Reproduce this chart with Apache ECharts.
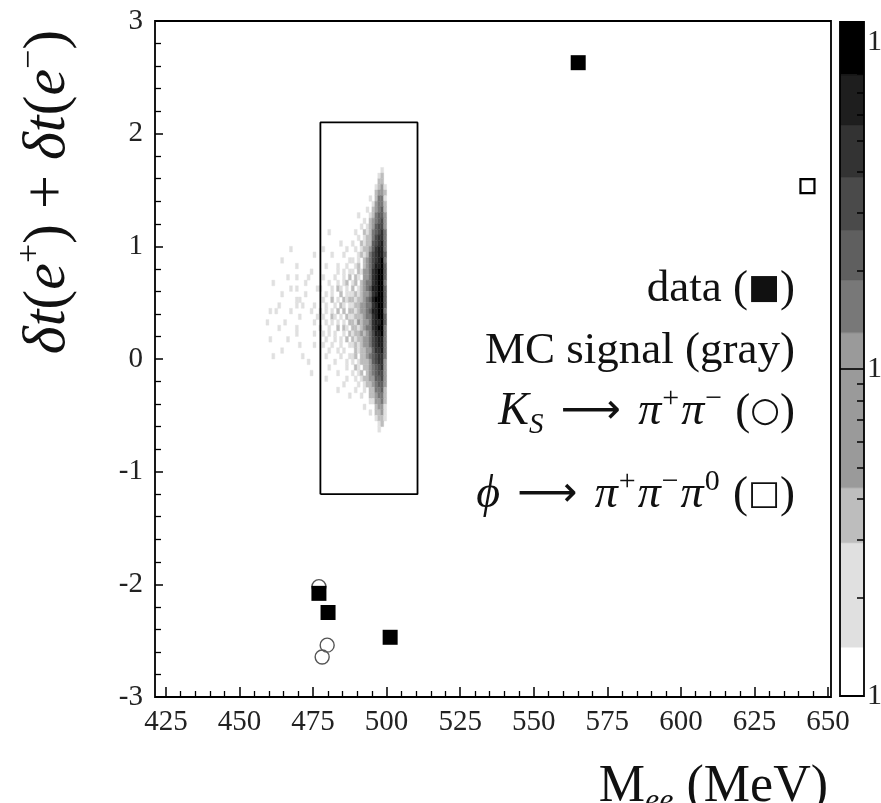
<!DOCTYPE html>
<html>
<head>
<meta charset="utf-8">
<script src="https://cdn.jsdelivr.net/npm/echarts@6/dist/echarts.min.js"></script>
<style>
  html, body { margin: 0; padding: 0; background: #fff; }
  #chart { width: 881px; height: 803px; }
</style>
</head>
<body>
<div id="chart"></div>
<script>
// ---- axis ticks (MeV) ----
const massTicks = [425, 450, 475, 500, 525, 550, 575, 600, 625, 650];
const massMinorTicks = [430, 435, 440, 445, 455, 460, 465, 470, 480, 485, 490, 495,
  505, 510, 515, 520, 530, 535, 540, 545, 555, 560, 565, 570, 580, 585, 590, 595,
  605, 610, 615, 620, 630, 635, 640, 645];
const massRange = [421.3, 651];
const dtRange = [-3, 3];

// ---- candidate events ----
const dataEvents = [[565.1, 2.63], [477.0, -2.08], [480.1, -2.25], [501.2, -2.47]];
const ksEvents = [[477.0, -2.02], [479.8, -2.54], [478.1, -2.645]];
const phiEvents = [[643.0, 1.535]];

// ---- signal region ----
const boxMass = [477.5, 510.5];
const boxDt = [-1.2, 2.1];

// ---- MC signal histogram: 1 MeV x 0.05 ns bins, rows from dt = 1.70 downward ----
const mcBinMass = 1;
const mcBinDt = 0.05;
const mcTopDt = 1.70;
// counts for each shade level written in the row strings ('.' = empty bin)
const mcLevelCounts = [0, 2, 3.5, 7, 15, 22, 30, 45, 65, 95];
// columns 459..476 MeV
const mcFar = ['', '', '', '', '', '', '', '', '', '', '', '', '', '',
  '........1.........', '................1.', '.....1............', '..........1.......',
  '...............1..', '.......1..1...1...', '..1..........1....', '........1.1......1',
  '.....1.......1....', '..........11......', '....1.....1.1...1.', '.1.1....1......1..',
  '...........1.....1', '1.....1.........1.', '....1.....1.......', '..........1.....1.',
  '.1.....1..........', '...........1....1.', '.....1............', '..1.........1.....',
  '..............1...', '', '...............1..', '', '', '', '', '', '', '', '', '', ''];
// columns 477..487 MeV
const mcMid = ['', '', '', '', '', '', '', '', '', '', '',
  '...1.......', '', '.......1...', '.1.......1.', '....1...1..', '..........1',
  '..1...1..1.', '......1.1.1', '.1...1..1.2', '...1..1.12.', '1...1.21.1.',
  '..1.1..2.11', '.1..2.1.212', '..1..1.21.1', '1.1.1.2.2.2', '.1..21.1.21',
  '..1.1.1.1.2', '1..1..2.21.', '.1.1.1..1.2', '..1..1.1.2.', '.1..1..1..1',
  '...1..1.1..', '..1....1..1', '.....1...1.', '...1.....1.', '......1....',
  '..1......1.', '........1..', '......1....', '..........1', '', '', '', '', '', ''];
// columns 488..494 MeV
const mcNear = ['', '', '', '', '', '......1', '', '.....1.', '..1...1', '....1.2',
  '...1.12', '.1..212', '..1.122', '1..2122', '.1.1223', '..12124', '1.1.234',
  '.12.234', '1.21334', '.21.334', '12.2344', '2.12345', '1212334', '2122345',
  '1223344', '2123345', '1222344', '2132334', '2212344', '1223234', '2122334',
  '1212334', '.212233', '12.2234', '1.12223', '.21.223', '1.12.23', '.1.1223',
  '..1.122', '.1..1.2', '...1..2', '......1', '....1..', '......1', '', '', ''];
// columns 495..500 MeV
const mcCore = ['...1..', '..12..', '..22..', '.1231.', '.2332.', '.2441.', '13442.',
  '23452.', '24553.', '34563.', '35663.', '45674.', '46774.', '56784.', '57884.',
  '67885.', '67894.', '68895.', '78995.', '78995.', '78994.', '88995.', '78995.',
  '89995.', '78995.', '88994.', '78995.', '78895.', '78994.', '68894.', '67884.',
  '67884.', '57784.', '56774.', '56773.', '45673.', '45663.', '35563.', '34553.',
  '24452.', '23442.', '13342.', '.2331.', '.2231.', '.1221.', '..12..', '..1...'];
const mcGroups = [[459, mcFar], [477, mcMid], [488, mcNear], [495, mcCore]];

// ---- colour scale (counts per bin, log) ----
const scaleBreaks = [1, 1.41, 2.94, 4.33, 12.9, 18.7, 26.6, 38.6, 55.7, 79.3, 115];
const scaleShades = ['#ffffff', '#e0e0e0', '#bdbdbd', '#9a9a9a', '#787878',
  '#5f5f5f', '#4a4a4a', '#333333', '#1e1e1e', '#000000'];
const scaleMinorTicks = [2, 3, 4, 5, 6, 7, 8, 9, 20, 30, 40, 50, 60, 70, 80, 90];
const scaleLabels = [1, 10, 100];

// histogram cells: [m0, dt0, m1, dt1, count]
const mcCells = [];
mcGroups.forEach(([start, rows]) => {
  rows.forEach((row, r) => {
    const top = mcTopDt - r * mcBinDt;
    for (let k = 0; k < row.length; k++) {
      const ch = row[k];
      if (ch === '.') continue;
      const m0 = start + k * mcBinMass;
      mcCells.push([m0, top - mcBinDt, m0 + mcBinMass, top, mcLevelCounts[+ch]]);
    }
  });
});

const scaleBands = scaleBreaks.slice(0, -1).map((lo, i) => [lo, scaleBreaks[i + 1], i]);
const boxPath = [[boxMass[0], boxDt[0]], [boxMass[1], boxDt[0]], [boxMass[1], boxDt[1]],
  [boxMass[0], boxDt[1]], [boxMass[0], boxDt[0]]];

const SERIF = "'Liberation Serif', 'DejaVu Serif', serif";
const INK = '#111';

const chart = echarts.init(document.getElementById('chart'), null, { renderer: 'canvas' });

const supStyle = { fontSize: 30, fontFamily: SERIF, fill: INK, verticalAlign: 'top', lineHeight: 28, padding: [0, 2, 0, 1] };
const subStyle = { fontSize: 29, fontFamily: SERIF, fontStyle: 'italic', fill: INK, verticalAlign: 'bottom', lineHeight: 28 };
const itStyle = { fontSize: 46, fontFamily: SERIF, fontStyle: 'italic', fill: INK, lineHeight: 56 };
const symStyle = { fontSize: 34, fontFamily: "'DejaVu Sans', sans-serif", fill: INK, lineHeight: 56 };
const arrowStyle = { fontSize: 42, fontFamily: "'DejaVu Sans', sans-serif", fill: INK, lineHeight: 56, padding: [0, 6] };

function legendLine(y, text) {
  return {
    type: 'text', x: 795, y: y, z: 100,
    style: {
      text: text, fill: INK, fontSize: 45, fontFamily: SERIF, lineHeight: 56,
      font: "45px 'Liberation Serif', 'DejaVu Serif', serif",
      align: 'right', verticalAlign: 'middle', textAlign: 'right', textVerticalAlign: 'middle',
      rich: { i: itStyle, sup: supStyle, sub: subStyle, s: symStyle, a: arrowStyle }
    }
  };
}

chart.setOption({
  animation: false,
  backgroundColor: '#fff',
  grid: [
    { left: 155, right: 50, top: 21, bottom: 106, show: true, borderColor: '#000', borderWidth: 1.8,
      backgroundColor: 'transparent', containLabel: false, outerBoundsMode: 'none' },
    { left: 840, width: 24, top: 22, bottom: 107, show: true, borderColor: '#000', borderWidth: 1.8,
      backgroundColor: 'transparent', z: 10, containLabel: false, outerBoundsMode: 'none' }
  ],
  xAxis: [
    {
      type: 'value', gridIndex: 0, min: massRange[0], max: massRange[1], position: 'bottom',
      axisLine: { show: false, onZero: false },
      splitLine: { show: false },
      axisTick: { show: true, inside: true, length: 10, customValues: massTicks, lineStyle: { color: '#000', width: 1.5 } },
      axisLabel: { show: true, customValues: massTicks, fontSize: 29, fontFamily: SERIF, color: '#222', margin: 11 }
    },
    {
      type: 'value', gridIndex: 0, min: massRange[0], max: massRange[1], position: 'bottom',
      axisLine: { show: false, onZero: false },
      splitLine: { show: false },
      axisTick: { show: true, inside: true, length: 6, customValues: massMinorTicks, lineStyle: { color: '#000', width: 1.3 } },
      axisLabel: { show: false }
    },
    {
      type: 'value', gridIndex: 1, min: 0, max: 1, show: false
    }
  ],
  yAxis: [
    {
      type: 'value', gridIndex: 0, min: dtRange[0], max: dtRange[1], interval: 1,
      axisLine: { show: false, onZero: false },
      splitLine: { show: false },
      axisTick: { show: true, inside: true, length: 8, lineStyle: { color: '#000', width: 1.5 } },
      minorTick: { show: true, splitNumber: 5, length: 6, lineStyle: { color: '#000', width: 1.3 } },
      axisLabel: { fontSize: 29, fontFamily: SERIF, color: '#222', margin: 12 }
    },
    {
      type: 'log', gridIndex: 1, logBase: 10, min: scaleBreaks[0], max: scaleBreaks[scaleBreaks.length - 1],
      position: 'right', z: 20,
      axisLine: { show: false, onZero: false },
      splitLine: { show: false },
      axisTick: { show: true, inside: true, length: 7, customValues: scaleMinorTicks, lineStyle: { color: '#000', width: 1.5 } },
      axisLabel: {
        show: true, customValues: scaleLabels, fontSize: 30, fontFamily: SERIF, color: '#222', margin: 3,
        formatter: v => (Math.round(v) === 100 ? '10²' : String(Math.round(v)))
      }
    }
  ],
  visualMap: {
    type: 'piecewise', show: false, seriesIndex: 0, dimension: 4,
    pieces: scaleBands.map(([lo, hi, i]) => (i === scaleBands.length - 1
      ? { gte: lo, lte: hi, color: scaleShades[i] }
      : { gte: lo, lt: hi, color: scaleShades[i] }))
  },
  series: [
    {
      name: 'MC signal', type: 'custom', coordinateSystem: 'cartesian2d', xAxisIndex: 0, yAxisIndex: 0,
      data: mcCells, encode: { x: [0, 2], y: [1, 3] }, silent: true, z: 1,
      renderItem: (params, api) => {
        const p0 = api.coord([api.value(0), api.value(3)]);
        const p1 = api.coord([api.value(2), api.value(1)]);
        const c = api.visual('color');
        return {
          type: 'rect',
          shape: { x: p0[0], y: p0[1], width: p1[0] - p0[0], height: p1[1] - p0[1] },
          style: { fill: c, stroke: c, lineWidth: 0.4 }
        };
      }
    },
    {
      name: 'signal box', type: 'line', xAxisIndex: 0, yAxisIndex: 0, data: boxPath,
      showSymbol: false, symbol: 'none', silent: true, z: 3,
      lineStyle: { color: '#000', width: 1.8 }
    },
    {
      name: 'KS', type: 'scatter', xAxisIndex: 0, yAxisIndex: 0, data: ksEvents,
      symbol: 'circle', symbolSize: 14, z: 4,
      itemStyle: { color: 'rgba(0,0,0,0)', borderColor: '#555', borderWidth: 1.4, opacity: 1 }
    },
    {
      name: 'phi', type: 'scatter', xAxisIndex: 0, yAxisIndex: 0, data: phiEvents,
      symbol: 'rect', symbolSize: 14, z: 5,
      itemStyle: { color: '#fff', borderColor: '#000', borderWidth: 2.2, opacity: 1 }
    },
    {
      name: 'data', type: 'scatter', xAxisIndex: 0, yAxisIndex: 0, data: dataEvents,
      symbol: 'rect', symbolSize: 15, z: 6,
      itemStyle: { color: '#000', opacity: 1 }
    },
    {
      name: 'scale', type: 'custom', coordinateSystem: 'cartesian2d', xAxisIndex: 2, yAxisIndex: 1,
      data: scaleBands, encode: { y: [0, 1] }, silent: true, z: 1,
      renderItem: (params, api) => {
        const p0 = api.coord([0, api.value(1)]);
        const p1 = api.coord([1, api.value(0)]);
        const c = scaleShades[api.value(2)];
        return {
          type: 'rect',
          shape: { x: p0[0], y: p0[1], width: p1[0] - p0[0], height: p1[1] - p0[1] },
          style: { fill: c, stroke: c, lineWidth: 0.5 }
        };
      },
      markLine: {
        silent: true, symbol: 'none', label: { show: false },
        lineStyle: { color: '#000', width: 1.6, type: 'solid' },
        data: [{ yAxis: 10 }]
      }
    }
  ],
  graphic: [
    legendLine(289, 'data ({s|■})'),
    legendLine(351, 'MC signal (gray)'),
    legendLine(412, '{i|K}{sub|S} {a|⟶} {i|π}{sup|+}{i|π}{sup|−} ({s|○})'),
    legendLine(495, '{i|ϕ} {a|⟶} {i|π}{sup|+}{i|π}{sup|−}{i|π}{sup|0} ({s|□})'),
    {
      type: 'text', x: 48, y: 192, rotation: Math.PI / 2, z: 100,
      style: {
        text: '{i|δt}({i|e}{sup|+}) + {i|δt}({i|e}{sup|−})',
        fill: INK, fontSize: 60, fontFamily: SERIF, lineHeight: 70,
        font: "60px 'Liberation Serif', 'DejaVu Serif', serif",
        align: 'center', verticalAlign: 'middle', textAlign: 'center', textVerticalAlign: 'middle',
        rich: {
          i: { fontSize: 60, fontFamily: SERIF, fontStyle: 'italic', fill: INK, lineHeight: 70 },
          sup: { fontSize: 34, fontFamily: SERIF, fill: INK, verticalAlign: 'top', lineHeight: 34 }
        }
      }
    },
    {
      type: 'text', x: 828, y: 787, z: 100,
      style: {
        text: 'M{sub|ee} (MeV)',
        fill: INK, fontSize: 52, fontFamily: SERIF, lineHeight: 62,
        font: "52px 'Liberation Serif', 'DejaVu Serif', serif",
        align: 'right', verticalAlign: 'middle', textAlign: 'right', textVerticalAlign: 'middle',
        rich: {
          sub: { fontSize: 32, fontFamily: SERIF, fontStyle: 'italic', fill: INK, verticalAlign: 'bottom', lineHeight: 30 }
        }
      }
    }
  ]
});
</script>
</body>
</html>
